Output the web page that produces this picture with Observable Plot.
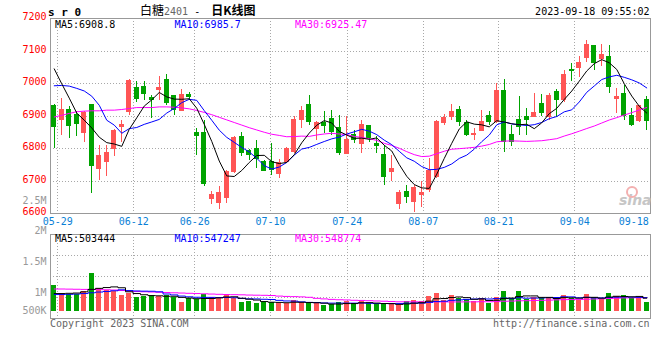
<!DOCTYPE html>
<html><head><meta charset="utf-8">
<script src="https://cdn.jsdelivr.net/npm/d3@7"></script>
<script src="https://cdn.jsdelivr.net/npm/@observablehq/plot@0.6"></script>
<style>
html,body{margin:0;padding:0;background:#fff;}
#chart{position:relative;width:660px;height:360px;overflow:hidden;background:#fff;}
#chart svg{position:absolute;left:0;top:0;}
.t{position:absolute;white-space:pre;font-family:"DejaVu Sans Mono",monospace;font-size:10px;line-height:10px;}
</style></head><body><div id="chart"></div>
<script>
// ---- data (80 trading days, 05-26 .. 09-18) ----
const open = [6930,6887,6918,6902,6848,6933,6736,6759,6800,6865, 6912,6985,6988,6956,6979,7010,6961,6916,6964,6848,
  6848,6646,6633,6649,6728,6836,6792,6800,6759,6757, 6723,6759,6790,6887,6933,6859,6879,6892,6862,6782,
  6841,6815,6869,6815,6779,6728,6629,6666,6636,6656, 6672,6713,6877,6897,6918,6877,6843,6854,6899,6882,
  6977,6841,6887,6897,6897,6936,6897,6974,6949,7041, 7049,7077,7115,7075,7082,6951,6967,6899,6885,6949];
const high = [6935,6954,6930,6913,6913,6935,6810,6810,6858,6887, 7013,7005,7005,6964,7022,7029,6961,6982,6971,6862,
  6887,6669,6684,6733,6836,6848,6797,6826,6764,6815, 6766,6803,6899,6928,6964,6882,6913,6916,6901,6899,
  6856,6887,6872,6836,6810,6779,6672,6687,6687,6697, 6769,6887,6906,6936,6930,6887,6862,6918,6913,7000,
  7013,6872,6961,6923,6969,6967,6969,6982,7041,7062, 7082,7133,7118,7121,7118,6985,6995,6923,6933,6959];
const low = [6800,6841,6831,6836,6817,6663,6702,6713,6774,6820, 6902,6943,6949,6892,6949,6933,6902,6916,6949,6779,
  6684,6628,6612,6631,6723,6774,6764,6738,6728,6718, 6708,6754,6785,6862,6872,6826,6846,6841,6779,6781,
  6815,6785,6820,6785,6687,6697,6612,6631,6602,6620, 6666,6708,6872,6887,6867,6836,6826,6851,6872,6877,
  6787,6805,6841,6841,6895,6899,6887,6895,6943,7005, 7020,7066,7041,7051,6969,6908,6887,6867,6879,6856];
const close = [6865,6918,6870,6875,6908,6745,6776,6786,6854,6872, 7008,6952,6967,6949,6986,6940,6918,6964,6957,6840,
  6692,6656,6662,6728,6831,6785,6779,6769,6731,6733, 6756,6797,6887,6915,6882,6877,6868,6851,6785,6826,
  6826,6872,6832,6807,6713,6738,6663,6651,6680,6662, 6730,6882,6893,6913,6882,6841,6846,6882,6882,6977,
  6820,6820,6867,6889,6909,6910,6961,6949,7026,7038, 7062,7118,7062,7087,6990,6959,6899,6872,6930,6885];
const volume = [1020000,710000,660000,660000,790000,1510000,910000,820000,790000,620000,
  710000,560000,580000,620000,580000,620000,560000,360000,490000,450000,
  660000,560000,490000,660000,490000,360000,380000,320000,360000,360000,
  320000,320000,420000,360000,290000,290000,230000,250000,360000,380000,
  290000,380000,290000,270000,290000,270000,230000,380000,420000,380000,
  580000,710000,420000,620000,490000,450000,380000,490000,320000,530000,
  780000,490000,780000,450000,530000,490000,490000,560000,620000,490000,
  420000,660000,560000,450000,710000,580000,620000,490000,530000,360000];
// moving-average values before enough visible history exists
const ma5Lead  = [7045,6999,6955,6909];
const ma10Lead = [6993,6994,6992,6985,6977,6961,6933,6887,6872];
const ma30Lead = [6897,6902,6908,6913,6915,6916,6916,6918,6918,6920,6923,6926,6926,6926,6928,6928,6927,6925,6922,6917,
  6911,6904,6896,6888,6880,6872,6864,6857,6850];
const vma5Lead  = [700000,700000,710000,720000];
const vma10Lead = [660000,660000,670000,680000,700000,730000,760000,780000,810000];
const vma30Lead = [880000,880000,875000,870000,865000,860000,855000,850000,840000,820000,800000,780000,770000,760000,750000,
  740000,730000,720000,710000,700000,690000,680000,670000,660000,655000,650000,640000,635000,630000];
// axes / labels
const priceTicks = [7200,7100,7000,6900,6800,6700,6600];
const dateTickPos = [0.47,10.6,18.74,28.83,39.06,49.19,59.27,69.41,79.55];
const dateTickLabels = ["05-29","06-12","06-26","07-10","07-24","08-07","08-21","09-04","09-18"];
const volTicks = [2500000,2000000,1500000,1000000,500000];
const volGridLines = [2210000,1377000,544000];
const headerCode = "s r 0";
const titleName = "白糖", titleCode = "2401", titleKind = "日K线图";
const timeStamp = "2023-09-18 09:55:02";
const maLegend = ["MA5:6908.8","MA10:6985.7","MA30:6925.47"];
const volLegend = ["MA5:503444","MA10:547247","MA30:548774"];
const copyright = "Copyright 2023 SINA.COM";
const siteUrl = "http://finance.sina.com.cn";

// ---- build ----
const chart = document.getElementById("chart");
const FONT = "DejaVu Sans Mono";
const RED = "#ff5555", GREEN = "#00a300", BLUE_T = "#0a7fd6";
const MA_COLORS = ["#000000","#0000ff","#ff00ff"];
const colorOf = d => d.c >= d.o ? RED : GREEN;
const rows = open.map((o, i) => ({i, o, h: high[i], l: low[i], c: close[i], v: volume[i]}));
const movingAvg = (vals, n, lead) => vals.map((_, i) => i >= n - 1 ? d3.mean(vals.slice(i - n + 1, i + 1)) : lead[i]);
const ma5 = movingAvg(close, 5, ma5Lead), ma10 = movingAvg(close, 10, ma10Lead), ma30 = movingAvg(close, 30, ma30Lead);
const vma5 = movingAvg(volume, 5, vma5Lead), vma10 = movingAvg(volume, 10, vma10Lead), vma30 = movingAvg(volume, 30, vma30Lead);
const maRows = rows.map((d, i) => ({i, ma5: ma5[i], ma10: ma10[i], ma30: ma30[i], v5: vma5[i], v10: vma10[i], v30: vma30[i]}));
const dateTicks = dateTickPos.map((pos, k) => ({pos, label: dateTickLabels[k]}));

const xOpt = {domain: [-0.5, 79.5], axis: null};
const baseStyle = {background: "transparent", overflow: "visible", fontFamily: FONT, fontSize: "10px"};
const dotted = {stroke: "#a8a8a8", strokeDasharray: "1,2", shapeRendering: "crispEdges"};
const halfW = 0.36;
const bodyX = {x1: d => d.i - halfW, x2: d => d.i + halfW};

const mainPlot = Plot.plot({
  width: 660, height: 360, marginLeft: 50, marginRight: 10, marginTop: 18, marginBottom: 147,
  x: xOpt, y: {domain: [6600, 7200], axis: null}, style: baseStyle,
  marks: [
    Plot.ruleY(priceTicks.slice(1, -1), dotted),
    Plot.ruleX(dateTickPos.slice(0, -1), dotted),
    Plot.ruleX(rows, {x: "i", y1: "l", y2: "h", stroke: colorOf, shapeRendering: "crispEdges"}),
    Plot.rect(rows, {...bodyX, y1: "o", y2: "c", fill: colorOf, insetTop: -0.5, insetBottom: -0.5, shapeRendering: "crispEdges"}),
    Plot.line(maRows, {x: "i", y: "ma30", stroke: MA_COLORS[2], strokeWidth: 1}),
    Plot.line(maRows, {x: "i", y: "ma10", stroke: MA_COLORS[1], strokeWidth: 1}),
    Plot.line(maRows, {x: "i", y: "ma5", stroke: MA_COLORS[0], strokeWidth: 1}),
    Plot.frame({stroke: "#999", shapeRendering: "crispEdges"}),
    Plot.text(priceTicks, {y: d => d, text: d => String(d), frameAnchor: "left", textAnchor: "end", dx: -4, dy: -1.5, fill: "#f00", fontSize: 10}),
    Plot.text(dateTicks.slice(0, -1), {x: "pos", text: "label", frameAnchor: "bottom", dy: 8.7, lineAnchor: "middle", fill: BLUE_T, fontSize: 10}),
    Plot.text(dateTicks.slice(-1), {x: "pos", text: "label", frameAnchor: "bottom", dy: 8.7, dx: -2, lineAnchor: "middle", textAnchor: "end", fill: BLUE_T, fontSize: 10})
  ]
});

const volPlot = Plot.plot({
  width: 660, height: 360, marginLeft: 50, marginRight: 10, marginTop: 234, marginBottom: 42,
  x: xOpt, y: {domain: [-290000, 3043000], axis: null}, style: baseStyle,
  marks: [
    Plot.ruleY(volGridLines, dotted),
    Plot.ruleX(dateTickPos.slice(0, -1), dotted),
    Plot.rect(rows, {...bodyX, y1: 0, y2: "v", fill: colorOf, shapeRendering: "crispEdges"}),
    Plot.line(maRows, {x: "i", y: "v30", stroke: MA_COLORS[2], curve: "step", strokeWidth: 1}),
    Plot.line(maRows, {x: "i", y: "v10", stroke: MA_COLORS[1], curve: "step", strokeWidth: 1}),
    Plot.line(maRows, {x: "i", y: "v5", stroke: MA_COLORS[0], curve: "step", strokeWidth: 1}),
    Plot.frame({stroke: "#999", shapeRendering: "crispEdges"})
  ]
});

const fmtVol = v => v >= 1e6 ? (v / 1e6) + "M" : (v / 1e3) + "K";
const volLabelPlot = Plot.plot({
  width: 660, height: 360, marginLeft: 50, marginRight: 10, marginTop: 200, marginBottom: 37.6,
  x: xOpt, y: {domain: [500000, 2500000], axis: null}, style: baseStyle,
  marks: [
    Plot.text(volTicks.filter(v => v >= 1e6), {y: d => d, text: fmtVol, frameAnchor: "left", textAnchor: "end", dx: -4, fill: "#999", fontSize: 10}),
    Plot.text(volTicks.filter(v => v < 1e6), {y: d => d, text: fmtVol, frameAnchor: "left", textAnchor: "end", dx: -4, dy: -11.7, fill: "#999", fontSize: 10})
  ]
});

chart.append(mainPlot, volPlot, volLabelPlot);

function addText(html, o) {
  const el = document.createElement("div");
  el.className = "t";
  el.innerHTML = html;
  const size = o.size || 10;
  el.style.fontSize = size + "px";
  el.style.lineHeight = size + "px";
  el.style.top = (o.cy - 0.48 * size) + "px";
  if (o.left != null) el.style.left = o.left + "px";
  if (o.right != null) el.style.right = (660 - o.right) + "px";
  el.style.color = o.color || "#000";
  if (o.weight) el.style.fontWeight = o.weight;
  if (o.family) el.style.fontFamily = o.family;
  if (o.italic) el.style.fontStyle = "italic";
  chart.append(el);
  return el;
}
const CJK = "'Noto Sans CJK SC', sans-serif";
addText(headerCode, {left: 48, cy: 12, size: 11, weight: "bold"});
addText(`<span style="font-family:${CJK};font-size:12px">${titleName}</span><span style="color:#666">${titleCode}</span><span> - </span><span style="font-family:${CJK};font-size:12px;font-weight:bold;margin-left:5px">${titleKind}</span>`, {left: 140, cy: 9.5, size: 10});
addText(timeStamp, {right: 649.5, cy: 12});
const legendLefts = [55, 174.5, 295];
maLegend.forEach((s, k) => addText(s, {left: legendLefts[k], cy: 24.3, color: MA_COLORS[k]}));
volLegend.forEach((s, k) => addText(s, {left: legendLefts[k], cy: 238.3, color: MA_COLORS[k]}));
addText(copyright, {left: 50, cy: 323.5, color: "#666"});
addText(siteUrl, {right: 649.5, cy: 323.5, color: "#666"});
// sina watermark
addText("sina", {left: 619, cy: 200, size: 14, weight: "bold", italic: true, color: "#c6c6c6", family: "'DejaVu Sans', sans-serif"});
const eye = document.createElement("div");
eye.style.cssText = "position:absolute;left:626px;top:186px;width:8px;height:8px;border:2px solid #f3b0b0;border-radius:50%;";
chart.append(eye);
</script></body></html>
